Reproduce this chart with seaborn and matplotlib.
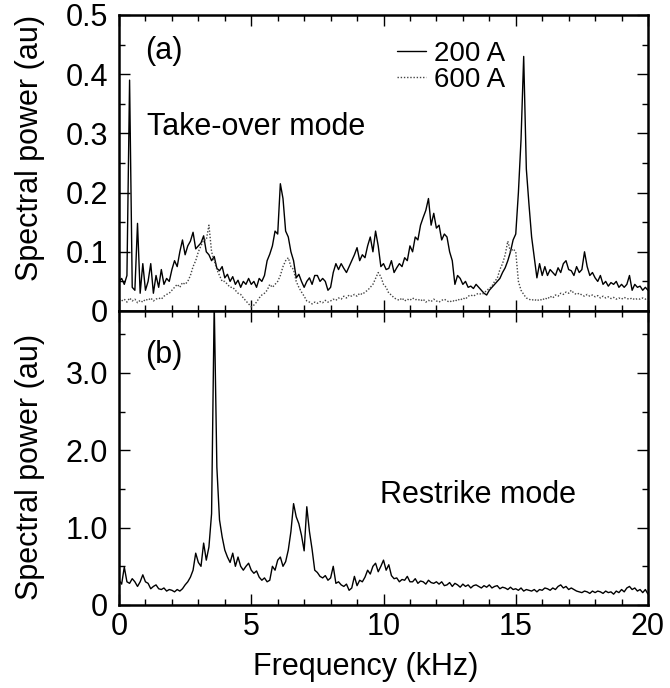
import matplotlib
matplotlib.use("Agg")
import matplotlib.pyplot as plt
import seaborn as sns
import pandas as pd
from matplotlib.ticker import MultipleLocator, FixedLocator

# ---------------- data ----------------
FREQ_KHZ = [
    0.0, 0.1, 0.2, 0.3, 0.4, 0.5, 0.6, 0.7, 0.8, 0.9,
    1.0, 1.1, 1.2, 1.3, 1.4, 1.5, 1.6, 1.7, 1.8, 1.9,
    2.0, 2.1, 2.2, 2.3, 2.4, 2.5, 2.6, 2.7, 2.8, 2.9,
    3.0, 3.1, 3.2, 3.3, 3.4, 3.5, 3.6, 3.7, 3.8, 3.9,
    4.0, 4.1, 4.2, 4.3, 4.4, 4.5, 4.6, 4.7, 4.8, 4.9,
    5.0, 5.1, 5.2, 5.3, 5.4, 5.5, 5.6, 5.7, 5.8, 5.9,
    6.0, 6.1, 6.2, 6.3, 6.4, 6.5, 6.6, 6.7, 6.8, 6.9,
    7.0, 7.1, 7.2, 7.3, 7.4, 7.5, 7.6, 7.7, 7.8, 7.9,
    8.0, 8.1, 8.2, 8.3, 8.4, 8.5, 8.6, 8.7, 8.8, 8.9,
    9.0, 9.1, 9.2, 9.3, 9.4, 9.5, 9.6, 9.7, 9.8, 9.9,
    10.0, 10.1, 10.2, 10.3, 10.4, 10.5, 10.6, 10.7, 10.8, 10.9,
    11.0, 11.1, 11.2, 11.3, 11.4, 11.5, 11.6, 11.7, 11.8, 11.9,
    12.0, 12.1, 12.2, 12.3, 12.4, 12.5, 12.6, 12.7, 12.8, 12.9,
    13.0, 13.1, 13.2, 13.3, 13.4, 13.5, 13.6, 13.7, 13.8, 13.9,
    14.0, 14.1, 14.2, 14.3, 14.4, 14.5, 14.6, 14.7, 14.8, 14.9,
    15.0, 15.1, 15.2, 15.3, 15.4, 15.5, 15.6, 15.7, 15.8, 15.9,
    16.0, 16.1, 16.2, 16.3, 16.4, 16.5, 16.6, 16.7, 16.8, 16.9,
    17.0, 17.1, 17.2, 17.3, 17.4, 17.5, 17.6, 17.7, 17.8, 17.9,
    18.0, 18.1, 18.2, 18.3, 18.4, 18.5, 18.6, 18.7, 18.8, 18.9,
    19.0, 19.1, 19.2, 19.3, 19.4, 19.5, 19.6, 19.7, 19.8, 19.9,
    20.0,
]

# (a) Take-over mode, 200 A
POWER_200A = [
    0.050, 0.055, 0.045, 0.060, 0.390, 0.040, 0.035, 0.148, 0.030, 0.080,
    0.035, 0.050, 0.080, 0.030, 0.060, 0.040, 0.070, 0.045, 0.055, 0.050,
    0.070, 0.085, 0.075, 0.100, 0.120, 0.095, 0.110, 0.118, 0.133, 0.105,
    0.110, 0.115, 0.127, 0.100, 0.095, 0.085, 0.092, 0.072, 0.068, 0.075,
    0.056, 0.062, 0.050, 0.058, 0.045, 0.052, 0.040, 0.050, 0.045, 0.055,
    0.045, 0.050, 0.040, 0.055, 0.050, 0.060, 0.085, 0.096, 0.110, 0.135,
    0.130, 0.215, 0.190, 0.135, 0.125, 0.100, 0.085, 0.056, 0.062, 0.050,
    0.040, 0.050, 0.056, 0.045, 0.060, 0.060, 0.050, 0.055, 0.050, 0.035,
    0.040, 0.065, 0.080, 0.070, 0.080, 0.072, 0.065, 0.075, 0.085, 0.095,
    0.107, 0.085, 0.095, 0.090, 0.110, 0.125, 0.100, 0.135, 0.110, 0.075,
    0.080, 0.070, 0.072, 0.085, 0.065, 0.073, 0.080, 0.075, 0.090, 0.085,
    0.110, 0.100, 0.125, 0.120, 0.145, 0.158, 0.170, 0.190, 0.145, 0.165,
    0.140, 0.145, 0.120, 0.130, 0.125, 0.100, 0.085, 0.045, 0.060, 0.055,
    0.045, 0.050, 0.040, 0.042, 0.038, 0.045, 0.040, 0.035, 0.030, 0.027,
    0.035, 0.040, 0.045, 0.050, 0.055, 0.065, 0.073, 0.085, 0.100, 0.120,
    0.130, 0.200, 0.290, 0.430, 0.240, 0.180, 0.125, 0.090, 0.056, 0.080,
    0.060, 0.075, 0.060, 0.070, 0.065, 0.060, 0.073, 0.065, 0.080, 0.085,
    0.070, 0.068, 0.060, 0.075, 0.065, 0.070, 0.100, 0.075, 0.060, 0.065,
    0.056, 0.050, 0.060, 0.045, 0.050, 0.042, 0.048, 0.045, 0.050, 0.040,
    0.045, 0.040, 0.045, 0.060, 0.035, 0.045, 0.040, 0.042, 0.035, 0.040,
    0.035,
]

# (a) Take-over mode, 600 A
POWER_600A = [
    0.020, 0.017, 0.020, 0.015, 0.022, 0.017, 0.020, 0.014, 0.018, 0.015,
    0.020, 0.018, 0.022, 0.017, 0.020, 0.022, 0.020, 0.025, 0.028, 0.030,
    0.035, 0.040, 0.045, 0.040, 0.048, 0.045, 0.050, 0.060, 0.075, 0.085,
    0.100, 0.110, 0.120, 0.120, 0.145, 0.100, 0.085, 0.070, 0.060, 0.050,
    0.050, 0.045, 0.040, 0.040, 0.035, 0.030, 0.028, 0.022, 0.017, 0.012,
    0.007, 0.010, 0.015, 0.022, 0.027, 0.030, 0.035, 0.045, 0.040, 0.045,
    0.050, 0.060, 0.075, 0.085, 0.090, 0.075, 0.070, 0.050, 0.040, 0.032,
    0.025, 0.017, 0.015, 0.012, 0.015, 0.013, 0.016, 0.014, 0.018, 0.015,
    0.017, 0.020, 0.018, 0.022, 0.020, 0.025, 0.022, 0.027, 0.025, 0.028,
    0.025, 0.030, 0.028, 0.032, 0.035, 0.040, 0.045, 0.055, 0.065, 0.058,
    0.045, 0.040, 0.030, 0.027, 0.022, 0.020, 0.018, 0.022, 0.017, 0.020,
    0.018, 0.022, 0.019, 0.020, 0.017, 0.020, 0.015, 0.018, 0.016, 0.020,
    0.017, 0.015, 0.018, 0.020, 0.017, 0.015, 0.018, 0.016, 0.020, 0.018,
    0.022, 0.020, 0.025, 0.027, 0.025, 0.028, 0.030, 0.028, 0.030, 0.035,
    0.038, 0.042, 0.050, 0.055, 0.070, 0.080, 0.095, 0.118, 0.100, 0.105,
    0.100, 0.050, 0.035, 0.028, 0.022, 0.020, 0.018, 0.020, 0.017, 0.020,
    0.018, 0.022, 0.020, 0.025, 0.022, 0.027, 0.025, 0.030, 0.028, 0.032,
    0.030, 0.035, 0.030, 0.028, 0.030, 0.027, 0.025, 0.028, 0.025, 0.027,
    0.024, 0.026, 0.022, 0.025, 0.022, 0.024, 0.021, 0.023, 0.020, 0.022,
    0.020, 0.023, 0.021, 0.020, 0.022, 0.019, 0.021, 0.020, 0.022, 0.020,
    0.021,
]

# (b) Restrike mode
POWER_RESTRIKE = [
    0.32, 0.27, 0.49, 0.30, 0.28, 0.34, 0.30, 0.24, 0.30, 0.39,
    0.30, 0.28, 0.21, 0.24, 0.26, 0.21, 0.20, 0.22, 0.18, 0.20,
    0.19, 0.17, 0.20, 0.18, 0.21, 0.26, 0.30, 0.36, 0.45, 0.67,
    0.55, 0.50, 0.80, 0.58, 0.75, 1.18, 3.90, 1.78, 1.10, 0.88,
    0.71, 0.62, 0.55, 0.67, 0.50, 0.62, 0.50, 0.45, 0.50, 0.54,
    0.45, 0.41, 0.44, 0.36, 0.32, 0.35, 0.30, 0.32, 0.50, 0.45,
    0.58, 0.62, 0.50, 0.56, 0.71, 0.95, 1.31, 1.14, 1.05, 0.90,
    0.70, 1.27, 0.95, 0.72, 0.45, 0.42, 0.37, 0.35, 0.38, 0.32,
    0.35, 0.50, 0.28, 0.30, 0.26, 0.24, 0.27, 0.19, 0.22, 0.37,
    0.25, 0.32, 0.30, 0.36, 0.45, 0.40, 0.50, 0.54, 0.43, 0.50,
    0.58, 0.45, 0.52, 0.38, 0.34, 0.35, 0.30, 0.33, 0.32, 0.37,
    0.30, 0.30, 0.34, 0.28, 0.31, 0.30, 0.27, 0.32, 0.29, 0.28,
    0.30, 0.27, 0.30, 0.25, 0.26, 0.29, 0.24, 0.28, 0.26, 0.23,
    0.27, 0.24, 0.26, 0.22, 0.25, 0.26, 0.24, 0.22, 0.25, 0.23,
    0.26, 0.22, 0.24, 0.25, 0.21, 0.23, 0.22, 0.20, 0.23, 0.20,
    0.21, 0.19, 0.22, 0.18, 0.20, 0.19, 0.18, 0.20, 0.17, 0.20,
    0.19, 0.22, 0.21, 0.19, 0.22, 0.20, 0.24, 0.26, 0.22, 0.24,
    0.20, 0.22, 0.20, 0.18, 0.17, 0.16, 0.18, 0.17, 0.15, 0.18,
    0.16, 0.18, 0.17, 0.15, 0.18, 0.16, 0.17, 0.14, 0.18, 0.16,
    0.20, 0.17, 0.22, 0.24, 0.20, 0.22, 0.18, 0.20, 0.16, 0.20,
    0.14,
]

SERIES_LABELS = ["200 A", "600 A"]
TOP_YTICKS = [0, 0.1, 0.2, 0.3, 0.4, 0.5]
TOP_YTICKLABELS = ["0", "0.1", "0.2", "0.3", "0.4", "0.5"]
BOT_YTICKS = [0, 1.0, 2.0, 3.0]
BOT_YTICKLABELS = ["0", "1.0", "2.0", "3.0"]
XTICKS = [0, 5, 10, 15, 20]

# ---------------- style ----------------
sns.set_theme(style="ticks")
plt.rcParams["font.family"] = ["Liberation Sans", "DejaVu Sans"]
plt.rcParams["text.color"] = "black"
plt.rcParams["axes.labelcolor"] = "black"
plt.rcParams["xtick.color"] = "black"
plt.rcParams["ytick.color"] = "black"
FS = 22
FS_LEG = 20

df_top = pd.DataFrame({"f": FREQ_KHZ, "p200": POWER_200A, "p600": POWER_600A})
df_bot = pd.DataFrame({"f": FREQ_KHZ, "p": POWER_RESTRIKE})

fig = plt.figure(figsize=(6.70, 6.88), dpi=100)
L, R = 119 / 670, 648 / 670
y_top = 1 - 15 / 688
y_mid = 1 - 311 / 688
y_bot = 1 - 605 / 688
ax1 = fig.add_axes([L, y_mid, R - L, y_top - y_mid])
ax2 = fig.add_axes([L, y_bot, R - L, y_mid - y_bot], sharex=ax1)

sns.lineplot(data=df_top, x="f", y="p200", ax=ax1, color="black",
             linewidth=1.0, estimator=None, label=SERIES_LABELS[0])
sns.lineplot(data=df_top, x="f", y="p600", ax=ax1, color="#444444",
             linewidth=1.0, linestyle=(0, (1, 1.3)), estimator=None,
             label=SERIES_LABELS[1])
sns.lineplot(data=df_bot, x="f", y="p", ax=ax2, color="black",
             linewidth=1.0, estimator=None)

for ax in (ax1, ax2):
    ax.set_xlim(0, 20)
    ax.xaxis.set_major_locator(FixedLocator(XTICKS))
    ax.xaxis.set_minor_locator(MultipleLocator(1))
    ax.tick_params(which="both", direction="in", top=True, right=True,
                   bottom=True, left=True, labelsize=FS, color="black",
                   labelcolor="black", width=1.0)
    ax.tick_params(which="major", length=8)
    ax.tick_params(which="minor", length=4)
    ax.tick_params(axis="y", which="major", pad=8)
    ax.tick_params(axis="x", which="major", pad=5)
    for s in ax.spines.values():
        s.set_linewidth(1.8)
        s.set_color("black")
    ax.set_ylabel("Spectral power (au)", fontsize=FS, color="black")

ax1.set_ylim(0, 0.5)
ax1.yaxis.set_major_locator(FixedLocator(TOP_YTICKS))
ax1.set_yticklabels(TOP_YTICKLABELS)
ax1.yaxis.set_minor_locator(MultipleLocator(0.05))
ax1.tick_params(axis="x", labelbottom=False)
ax1.set_xlabel("")
ax1.yaxis.set_label_coords(-0.14, 0.55)

ax2.set_ylim(0, 3.8)
ax2.yaxis.set_major_locator(FixedLocator(BOT_YTICKS))
ax2.set_yticklabels(BOT_YTICKLABELS)
ax2.yaxis.set_minor_locator(MultipleLocator(0.5))
ax2.set_xlabel("Frequency (kHz)", fontsize=FS, color="black")
ax2.set_xticks(XTICKS)
ax2.set_xticklabels([str(t) for t in XTICKS])
ax2.yaxis.set_label_coords(-0.14, 0.47)
ax2.xaxis.set_label_coords(0.467, -0.16)

ax1.text(1.0, 0.44, "(a)", fontsize=FS, va="center", ha="left")
ax1.text(1.05, 0.31, "Take-over mode", fontsize=FS, va="center", ha="left")
ax2.text(1.0, 3.23, "(b)", fontsize=FS, va="center", ha="left")
ax2.text(9.87, 1.42, "Restrike mode", fontsize=FS, va="center", ha="left")

leg = ax1.legend(loc="upper left", bbox_to_anchor=(0.525, 0.913), frameon=False,
                 fontsize=FS_LEG, handlelength=1.05, handletextpad=0.3,
                 labelspacing=0.0, borderpad=0, borderaxespad=0)

fig.savefig("out.png", dpi=100)
